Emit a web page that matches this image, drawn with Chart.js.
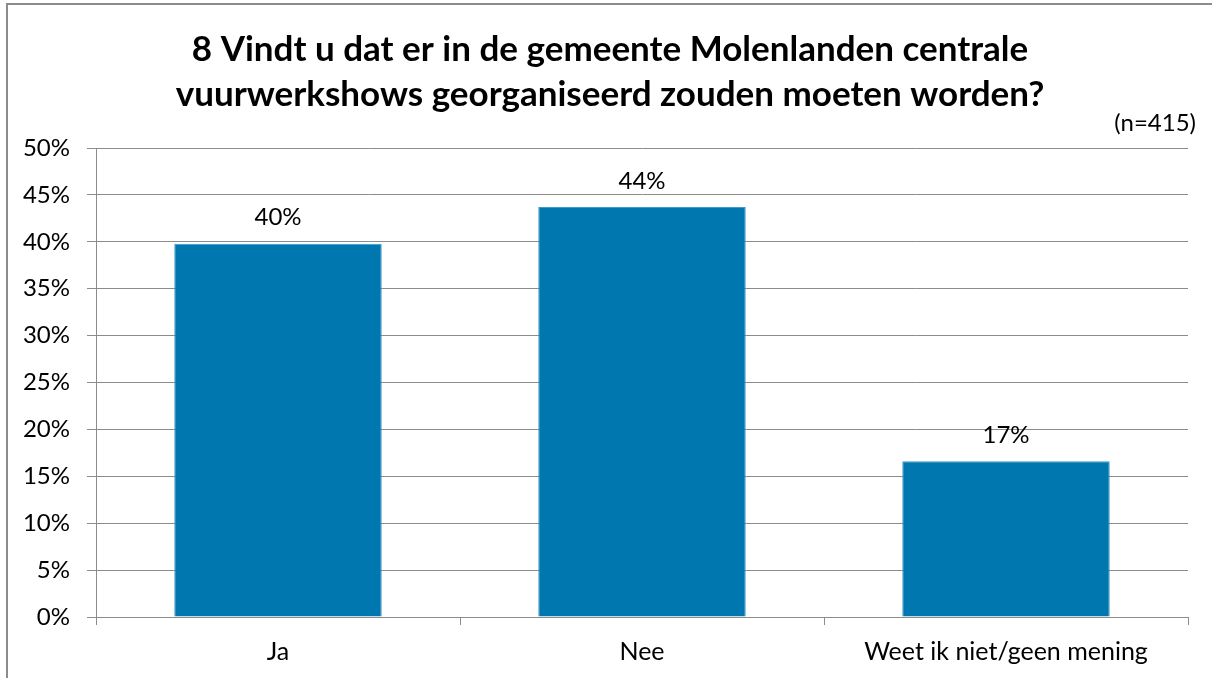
<!DOCTYPE html>
<html>
<head>
<meta charset="utf-8">
<script src="https://cdn.jsdelivr.net/npm/chart.js@4.4.1/dist/chart.umd.min.js"></script>
<style>
    html, body { margin: 0; padding: 0; background: #ffffff; }
    #wrap { width: 1212px; height: 678px; position: relative; }
</style>
</head>
<body>
<div id="wrap"><canvas id="survey-chart" width="1212" height="678"></canvas></div>
<script>
const categories = ["Ja", "Nee", "Weet ik niet/geen mening"];
const percentages = [39.8, 43.7, 16.6];
const valueLabels = ["40%", "44%", "17%"];
const yTicks = [0, 5, 10, 15, 20, 25, 30, 35, 40, 45, 50];
const titleLines = [
    "8 Vindt u dat er in de gemeente Molenlanden centrale",
    "vuurwerkshows georganiseerd zouden moeten worden?"
];
const sampleNote = "(n=415)";

const FONT = "Lato, Carlito, 'Liberation Sans', sans-serif";
const GRID = "#8c8c8c";

const frameAndLabels = {
    id: "frameAndLabels",
    afterLayout(chart) {
        // title in the original sits a bit right of the canvas centre
        if (chart.titleBlock) chart.titleBlock.left = 32;
    },
    beforeDraw(chart) {
        const ctx = chart.ctx;
        ctx.save();
        ctx.strokeStyle = "#8c8c8c";
        ctx.lineWidth = 2;
        ctx.strokeRect(7, 4, 1300, 800);
        ctx.restore();
    },
    afterDatasetsDraw(chart) {
        const ctx = chart.ctx;
        const meta = chart.getDatasetMeta(0);
        ctx.save();
        ctx.font = `24px ${FONT}`;
        ctx.fillStyle = "#000000";
        ctx.textAlign = "center";
        ctx.textBaseline = "middle";
        meta.data.forEach((bar, i) => {
            ctx.fillText(valueLabels[i], bar.x, bar.y - 26);
        });
        ctx.textAlign = "right";
        ctx.fillText(sampleNote, chart.chartArea.right + 8, 123);
        ctx.restore();
    }
};

new Chart(document.getElementById("survey-chart"), {
    type: "bar",
    data: {
        labels: categories,
        datasets: [{
            data: percentages,
            backgroundColor: "#0077AF",
            borderColor: "#3a9bd0",
            borderWidth: 1,
            categoryPercentage: 1,
            barPercentage: 0.57
        }]
    },
    options: {
        responsive: false,
        animation: false,
        layout: { padding: { left: 0, right: 24, top: 0, bottom: 0 } },
        plugins: {
            legend: { display: false },
            tooltip: { enabled: false },
            title: {
                display: true,
                text: titleLines,
                color: "#000000",
                font: { family: FONT, size: 35, weight: "bold", lineHeight: 1.286 },
                padding: { top: 27, bottom: 31 }
            }
        },
        scales: {
            x: {
                afterFit(scale) { scale.height = 61; },
                grid: {
                    offset: true,
                    drawOnChartArea: false,
                    color: GRID,
                    tickLength: 8
                },
                border: { color: GRID, width: 1 },
                ticks: {
                    color: "#000000",
                    font: { family: FONT, size: 25 },
                    padding: 12
                }
            },
            y: {
                min: 0,
                max: 50,
                afterFit(scale) { scale.width = 96; },
                afterBuildTicks(scale) {
                    scale.ticks = yTicks.map(v => ({ value: v }));
                },
                grid: {
                    color: GRID,
                    tickLength: 9
                },
                border: { color: GRID, width: 1 },
                ticks: {
                    color: "#000000",
                    font: { family: FONT, size: 24 },
                    padding: 17,
                    callback: v => v + "%"
                }
            }
        }
    },
    plugins: [frameAndLabels]
});
</script>
</body>
</html>
